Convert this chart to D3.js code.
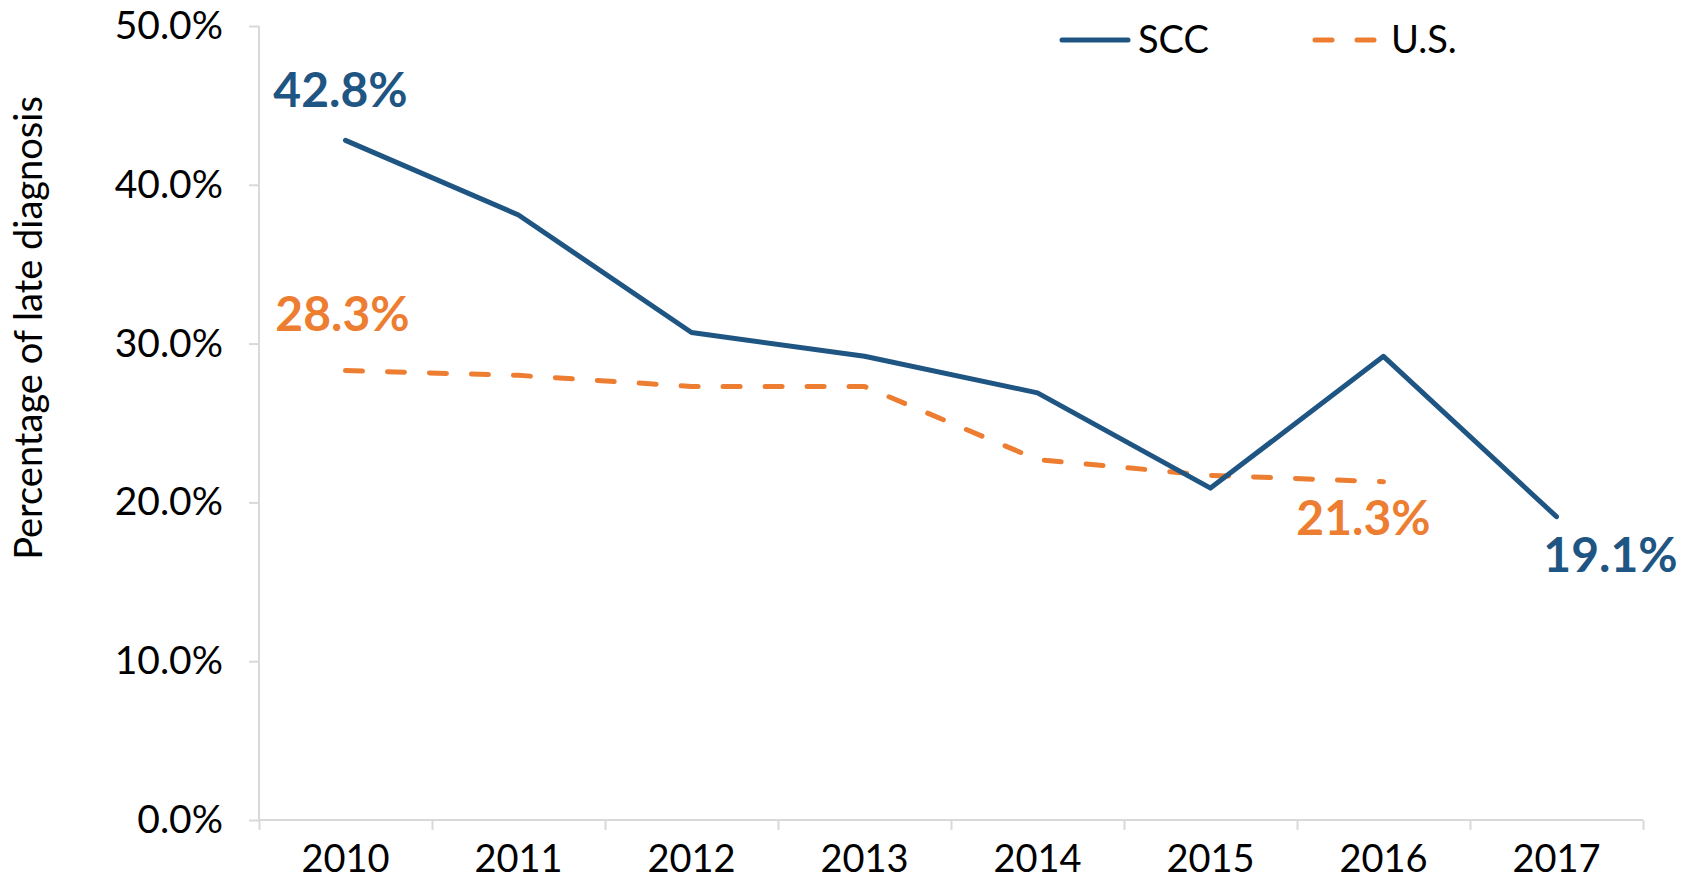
<!DOCTYPE html>
<html>
<head>
<meta charset="utf-8">
<script src="https://cdn.jsdelivr.net/npm/d3@7"></script>
<style>
  body { margin: 0; background: #fff; }
  svg text { font-family: Lato, "Open Sans", sans-serif; }
</style>
</head>
<body>
<svg id="chart" width="1690" height="884"></svg>
<script>
var years = ["2010","2011","2012","2013","2014","2015","2016","2017"];
var sccValues = [42.8, 38.1, 30.7, 29.2, 26.9, 20.9, 29.2, 19.1];
var usValues = [28.3, 28.0, 27.3, 27.3, 22.7, 21.7, 21.3];
var yTicks = [0, 10, 20, 30, 40, 50];
var seriesNames = ["SCC", "U.S."];

const blue = "#1f5582", orange = "#ed7d31", grey = "#d9d9d9";

const svg = d3.select("#chart"),
  margin = {top: 26, right: 47, bottom: 64, left: 259},
  width = +svg.attr("width") - margin.left - margin.right,
  height = +svg.attr("height") - margin.top - margin.bottom,
  x = d3.scaleBand().domain(years).range([0, width]).padding(0),
  xEdge = d3.scaleLinear().domain([0, years.length]).range([0, width]),
  y = d3.scaleLinear().domain([0, 50]).range([height, 0]),
  g = svg.append("g").attr("transform", `translate(${margin.left},${margin.top})`);

// y axis
const yAxis = g.append("g")
  .call(d3.axisLeft(y).tickValues(yTicks).tickSize(10).tickPadding(26)
    .tickFormat(d => d.toFixed(1) + "%"));
yAxis.selectAll("line, path").attr("stroke", grey).attr("stroke-width", 2);
yAxis.select(".domain").attr("d", `M0,0V${height}`);
yAxis.selectAll("text").attr("font-size", 39).attr("fill", "#000");

// x axis ticks at band edges
const xTicks = g.append("g").attr("transform", `translate(0,${height})`)
  .call(d3.axisBottom(xEdge).tickValues(d3.range(years.length + 1)).tickSize(10).tickFormat(""));
xTicks.selectAll("line, path").attr("stroke", grey).attr("stroke-width", 2);
xTicks.select(".domain").attr("d", `M0,0H${width}`);

// x labels
const xLabels = g.append("g").attr("transform", `translate(0,${height})`)
  .call(d3.axisBottom(x).tickSize(0).tickPadding(25));
xLabels.select(".domain").remove();
xLabels.selectAll("text").attr("font-size", 38).attr("fill", "#000");

// y title
svg.append("text")
  .attr("transform", "translate(42,328) rotate(-90)")
  .attr("text-anchor", "middle")
  .attr("font-size", 38)
  .attr("fill", "#000")
  .text("Percentage of late diagnosis");

const line = d3.line()
  .x((d, i) => x(years[i]) + x.bandwidth() / 2)
  .y(d => y(d));

g.append("path").datum(usValues)
  .attr("fill", "none").attr("stroke", orange).attr("stroke-width", 5)
  .attr("stroke-linecap", "round").attr("stroke-dasharray", "17,25")
  .attr("d", line);

g.append("path").datum(sccValues)
  .attr("fill", "none").attr("stroke", blue).attr("stroke-width", 5)
  .attr("stroke-linecap", "round").attr("stroke-linejoin", "round")
  .attr("d", line);

// data labels (first and last of each series)
function label(series, i, color, dx, dy) {
  g.append("text")
    .attr("x", x(years[i]) + x.bandwidth() / 2 + dx)
    .attr("y", y(series[i]) + dy)
    .attr("text-anchor", "middle")
    .attr("font-size", 48).attr("font-weight", "bold")
    .attr("fill", color)
    .text(series[i].toFixed(1) + "%");
}
label(sccValues, 0, blue, -5, -33);
label(usValues, 0, orange, -3, -40);
label(usValues, 6, orange, -20, 53);
label(sccValues, 7, blue, 54, 55);

// legend
const legend = svg.append("g");
const legItems = [
  {name: seriesNames[0], color: blue, dash: null, x0: 1062},
  {name: seriesNames[1], color: orange, dash: "17,25", x0: 1315}
];
legItems.forEach(function(d) {
  legend.append("line")
    .attr("x1", d.x0).attr("x2", d.x0 + 66).attr("y1", 40).attr("y2", 40)
    .attr("stroke", d.color).attr("stroke-width", 5).attr("stroke-linecap", "round")
    .attr("stroke-dasharray", d.dash);
  legend.append("text")
    .attr("x", d.x0 + 76).attr("y", 53)
    .attr("font-size", 38).attr("fill", "#000")
    .text(d.name);
});
</script>
</body>
</html>
